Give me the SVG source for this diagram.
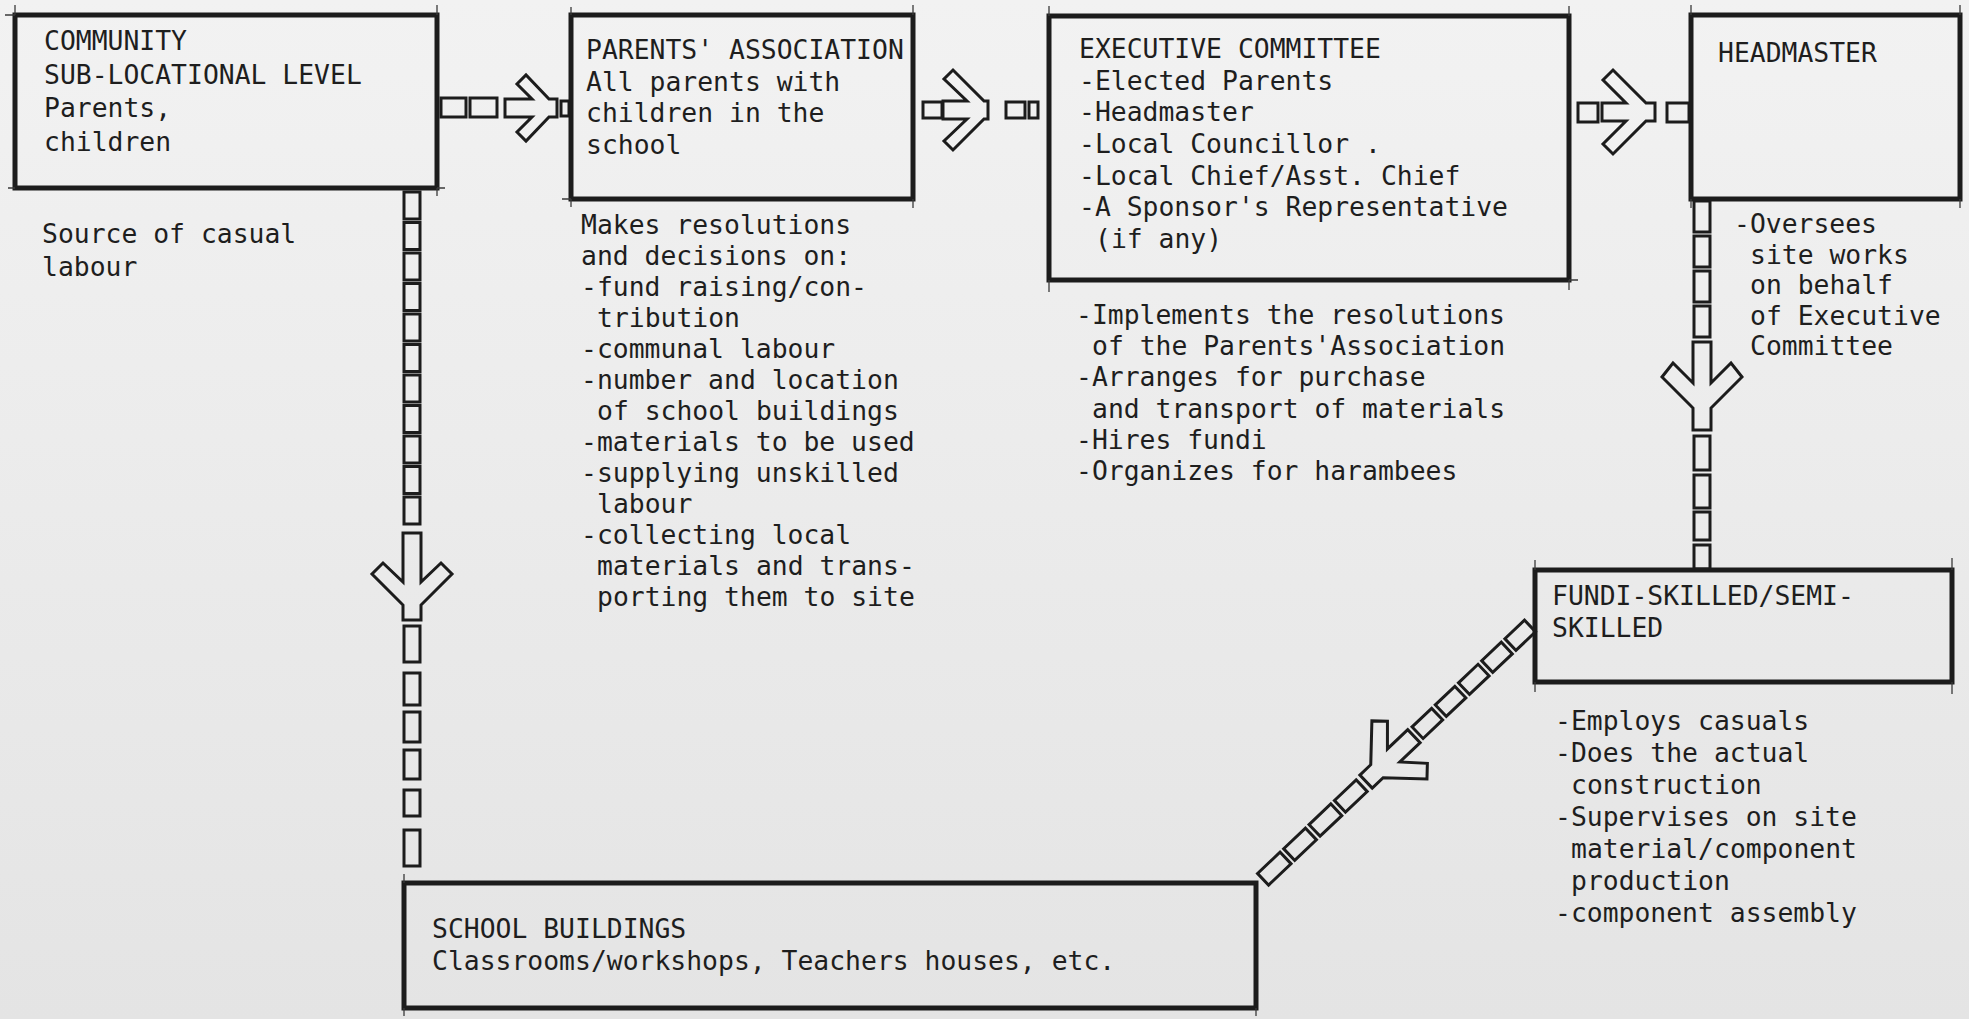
<svg xmlns="http://www.w3.org/2000/svg" width="1969" height="1019" viewBox="0 0 1969 1019">
<defs>
<linearGradient id="bg" x1="0" y1="0" x2="0" y2="1">
<stop offset="0" stop-color="#f2f2f2"/>
<stop offset="1" stop-color="#e4e4e4"/>
</linearGradient>
<style>
.box{fill:none;stroke:#1c1c1c;stroke-width:5}
.tick{fill:none;stroke:#3a3a3a;stroke-width:1.3}
.link{fill:none;stroke:#1c1c1c;stroke-width:3}
.ah{fill:none;stroke:#1c1c1c;stroke-width:3;stroke-linejoin:miter}
text{font-family:"DejaVu Sans Mono","Liberation Mono",monospace;font-size:26.4px;fill:#1e1e1e}
</style>
</defs>
<rect x="0" y="0" width="1969" height="1019" fill="url(#bg)"/>

<g id="community">
<rect class="box" x="15" y="15" width="422" height="173"/>
<path class="tick" d="M15,5 V15 M8,188 H15 M437,5 V15 M437,188 V196 M5,15 H15 M437,188 H445"/>
<text><tspan x="44" y="50">COMMUNITY</tspan><tspan x="44" y="83.5">SUB-LOCATIONAL LEVEL</tspan><tspan x="44" y="117">Parents,</tspan><tspan x="44" y="150.5">children</tspan></text>
<text><tspan x="42" y="243">Source of casual</tspan><tspan x="42" y="276">labour</tspan></text>
</g>

<g id="parents-association">
<rect class="box" x="571" y="15" width="342" height="184"/>
<path class="tick" d="M571,7 V15 M562,199 H571 M571,199 V207 M913,5 V15 M913,199 V208"/>
<text><tspan x="586" y="59">PARENTS' ASSOCIATION</tspan><tspan x="586" y="91">All parents with</tspan><tspan x="586" y="122">children in the</tspan><tspan x="586" y="154">school</tspan></text>
<text><tspan x="581" y="234">Makes resolutions</tspan><tspan x="581" y="265">and decisions on:</tspan><tspan x="581" y="296">-fund raising/con-</tspan><tspan x="597" y="327">tribution</tspan><tspan x="581" y="358">-communal labour</tspan><tspan x="581" y="389">-number and location</tspan><tspan x="597" y="420">of school buildings</tspan><tspan x="581" y="451">-materials to be used</tspan><tspan x="581" y="482">-supplying unskilled</tspan><tspan x="597" y="513">labour</tspan><tspan x="581" y="544">-collecting local</tspan><tspan x="597" y="575">materials and trans-</tspan><tspan x="597" y="606">porting them to site</tspan></text>
</g>

<g id="executive-committee">
<rect class="box" x="1049" y="16" width="520" height="264"/>
<path class="tick" d="M1049,6 V16 M1049,280 V292 M1569,6 V16 M1569,280 V290 M1569,280 H1578"/>
<text><tspan x="1079" y="58">EXECUTIVE COMMITTEE</tspan><tspan x="1079" y="89.6">-Elected Parents</tspan><tspan x="1079" y="121">-Headmaster</tspan><tspan x="1079" y="153">-Local Councillor .</tspan><tspan x="1079" y="184.5">-Local Chief/Asst. Chief</tspan><tspan x="1079" y="216">-A Sponsor's Representative</tspan><tspan x="1095" y="247.6">(if any)</tspan></text>
<text><tspan x="1076" y="324">-Implements the resolutions</tspan><tspan x="1092" y="355">of the Parents'Association</tspan><tspan x="1076" y="386">-Arranges for purchase</tspan><tspan x="1092" y="418">and transport of materials</tspan><tspan x="1076" y="449">-Hires fundi</tspan><tspan x="1076" y="480">-Organizes for harambees</tspan></text>
</g>

<g id="headmaster">
<rect class="box" x="1691" y="15" width="269" height="184"/>
<path class="tick" d="M1691,5 V15 M1691,199 V208 M1960,5 V15 M1960,199 V208"/>
<text x="1718" y="62">HEADMASTER</text>
<text><tspan x="1734" y="233">-Oversees</tspan><tspan x="1750" y="263.5">site works</tspan><tspan x="1750" y="294">on behalf</tspan><tspan x="1750" y="324.5">of Executive</tspan><tspan x="1750" y="355">Committee</tspan></text>
</g>

<g id="fundi">
<rect class="box" x="1535" y="570" width="417" height="112"/>
<path class="tick" d="M1535,560 V570 M1535,682 V692 M1952,558 V570 M1952,682 V694"/>
<text><tspan x="1552" y="605">FUNDI-SKILLED/SEMI-</tspan><tspan x="1552" y="637">SKILLED</tspan></text>
<text><tspan x="1555" y="730">-Employs casuals</tspan><tspan x="1555" y="762">-Does the actual</tspan><tspan x="1571" y="794">construction</tspan><tspan x="1555" y="826">-Supervises on site</tspan><tspan x="1571" y="858">material/component</tspan><tspan x="1571" y="890">production</tspan><tspan x="1555" y="922">-component assembly</tspan></text>
</g>

<g id="school-buildings">
<rect class="box" x="404" y="883" width="852" height="125"/>
<path class="tick" d="M404,874 V883 M1256,1008 V1016 M404,1008 V1016"/>
<text><tspan x="432" y="938">SCHOOL BUILDINGS</tspan><tspan x="432" y="970">Classrooms/workshops, Teachers houses, etc.</tspan></text>
</g>

<g id="connectors">
<!-- community -> parents' association -->
<rect class="link" x="441" y="98" width="25" height="19"/>
<rect class="link" x="470" y="98" width="27" height="19"/>
<path class="ah" transform="translate(557,108)" d="M0,-9 L0,9 L-8,9 L-31,33 L-40,24 L-25,9 L-52,9 L-52,-9 L-25,-9 L-40,-24 L-31,-33 L-8,-9 Z"/>
<rect class="link" x="561" y="101" width="8" height="15"/>

<!-- parents' association -> executive committee -->
<rect class="link" x="923" y="102" width="19" height="16"/>
<path class="ah" transform="translate(988,110)" d="M0,-9 L0,9 L-4,9 L-35,40 L-44,31 L-21,9 L-45,9 L-45,-9 L-21,-9 L-44,-31 L-35,-40 L-4,-9 Z"/>
<rect class="link" x="1006" y="102" width="19" height="16"/>
<rect class="link" x="1029" y="102" width="9" height="16"/>

<!-- executive committee -> headmaster -->
<rect class="link" x="1578" y="103" width="20" height="19"/>
<path class="ah" transform="translate(1655,112)" d="M0,-9 L0,9 L-9,9 L-42,42 L-52,32 L-29,9 L-53,9 L-53,-9 L-29,-9 L-52,-32 L-42,-42 L-9,-9 Z"/>
<rect class="link" x="1667" y="103" width="22" height="19"/>

<!-- community -> school buildings (vertical) -->
<rect class="link" x="404" y="192" width="16" height="27"/>
<rect class="link" x="404" y="222.5" width="16" height="27"/>
<rect class="link" x="404" y="253" width="16" height="27"/>
<rect class="link" x="404" y="283.5" width="16" height="27"/>
<rect class="link" x="404" y="314" width="16" height="27"/>
<rect class="link" x="404" y="344.5" width="16" height="27"/>
<rect class="link" x="404" y="375" width="16" height="27"/>
<rect class="link" x="404" y="405.5" width="16" height="27"/>
<rect class="link" x="404" y="436" width="16" height="27"/>
<rect class="link" x="404" y="466.5" width="16" height="27"/>
<rect class="link" x="404" y="497" width="16" height="27"/>
<path class="ah" transform="translate(412,620) rotate(90)" d="M0,-9 L0,9 L-15,9 L-46,40 L-57,29 L-38,9 L-87,9 L-87,-9 L-38,-9 L-57,-29 L-46,-40 L-15,-9 Z"/>
<rect class="link" x="404" y="626" width="16" height="36"/>
<rect class="link" x="404" y="673" width="16" height="32"/>
<rect class="link" x="404" y="712" width="16" height="30"/>
<rect class="link" x="404" y="750" width="16" height="29"/>
<rect class="link" x="404" y="790" width="16" height="26"/>
<rect class="link" x="404" y="830" width="16" height="36"/>

<!-- headmaster -> fundi (vertical) -->
<rect class="link" x="1694" y="201" width="16" height="31"/>
<rect class="link" x="1694" y="236" width="16" height="31"/>
<rect class="link" x="1694" y="271" width="16" height="31"/>
<rect class="link" x="1694" y="306" width="16" height="31"/>
<path class="ah" transform="translate(1702,430) rotate(90)" d="M0,-9 L0,9 L-22,9 L-53,40 L-67,29 L-47,9 L-88,9 L-88,-9 L-47,-9 L-67,-29 L-53,-40 L-22,-9 Z"/>
<rect class="link" x="1694" y="436" width="16" height="34"/>
<rect class="link" x="1694" y="475" width="16" height="33"/>
<rect class="link" x="1694" y="512" width="16" height="28"/>
<rect class="link" x="1694" y="545" width="16" height="24"/>

<!-- fundi -> school buildings (diagonal) -->
<g transform="translate(1530,626) rotate(136.5)">
<rect class="link" x="0" y="-8" width="27" height="16"/>
<rect class="link" x="32" y="-8" width="27" height="16"/>
<rect class="link" x="64" y="-8" width="27" height="16"/>
<rect class="link" x="96" y="-8" width="27" height="16"/>
<rect class="link" x="128" y="-8" width="27" height="16"/>
<path class="ah" transform="translate(226,0)" d="M0,-9 L0,9 L-15,9 L-46,40 L-57,29 L-38,9 L-66,9 L-66,-9 L-38,-9 L-57,-29 L-46,-40 L-15,-9 Z"/>
<rect class="link" x="232" y="-8" width="30" height="16"/>
<rect class="link" x="267" y="-8" width="30" height="16"/>
<rect class="link" x="302" y="-8" width="30" height="16"/>
<rect class="link" x="337" y="-8" width="31" height="16"/>
</g>
</g>
</svg>
